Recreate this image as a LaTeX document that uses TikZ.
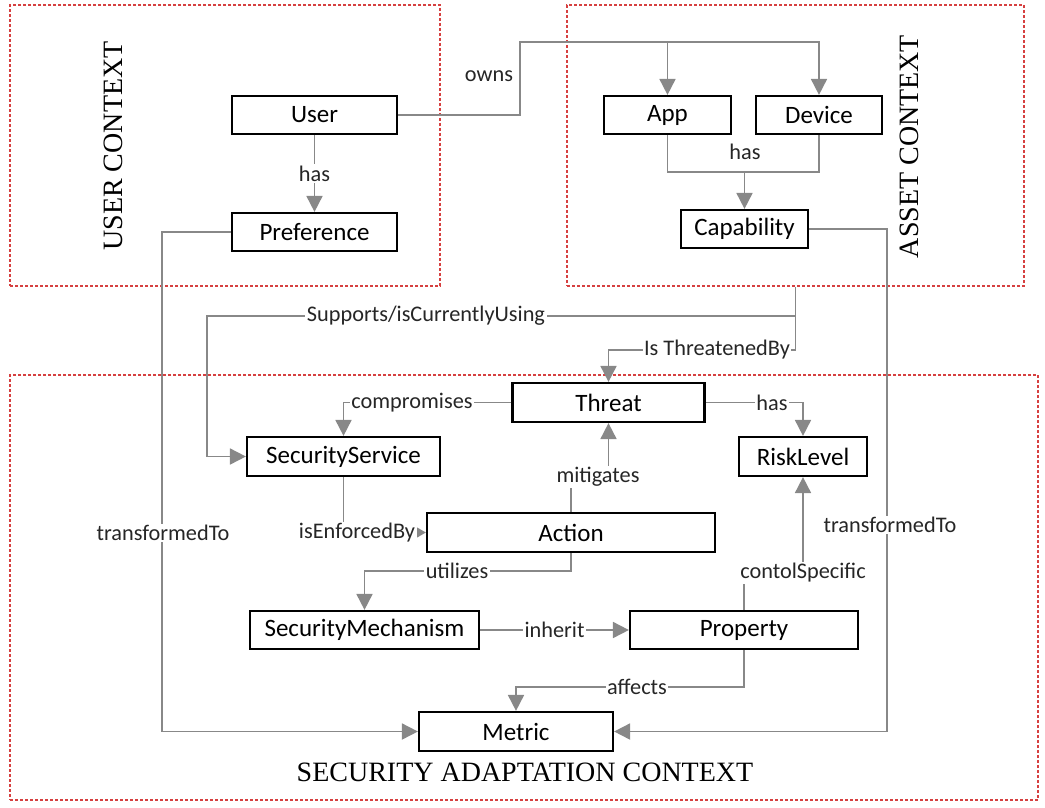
\documentclass[tikz,border=0pt]{standalone}
\usepackage{fontspec}
\setmainfont{Carlito}
\newfontfamily\titlefont{Liberation Serif}
\usetikzlibrary{arrows.meta}
\definecolor{conngray}{RGB}{136,136,136}
\definecolor{ctxred}{RGB}{214,64,64}
\begin{document}
\begin{tikzpicture}[x=1pt,y=-1pt,
  box/.style={draw=black, line width=2.2pt, minimum height=38pt, inner sep=0pt, font=\fontsize{25}{30}\selectfont},
  lbl/.style={fill=white, inner sep=1.5pt, font=\fontsize{22.3}{26}\selectfont, text=black!85},
  conn/.style={draw=conngray, line width=1.8pt},
  arr/.style={conn, -{Triangle[length=16pt,width=16pt]}},
  ctx/.style={draw=ctxred, line width=1.6pt, dash pattern=on 3pt off 2pt, inner sep=0pt},
  ttl/.style={font=\titlefont\fontsize{28}{32}\selectfont}]
\useasboundingbox (0,0) rectangle (1045,807);
\fill[white] (0,0) rectangle (1045,807);

% context frames
\node[ctx, minimum width=430pt, minimum height=281pt] (userctx) at (225,145.5) {};
\node[ctx, minimum width=457pt, minimum height=281pt] (assetctx) at (795.5,145.5) {};
\node[ctx, minimum width=1028pt, minimum height=425pt] (secctx) at (524,587.5) {};

% titles
\node[ttl, rotate=90] (userttl) at (113,146) {USER CONTEXT};
\node[ttl, rotate=90] (assetttl) at (909,146.5) {ASSET CONTEXT};
\node[ttl] (secttl) at (525,772) {SECURITY ADAPTATION CONTEXT};

% nodes
\node[box, minimum width=165pt] (user) at (314.5,115) {User};
\node[box, minimum width=165pt] (pref) at (314.5,232) {Preference};
\node[box, minimum width=127pt] (app) at (667.5,115) {App};
\node[box, minimum width=126pt] (device) at (819,115) {Device};
\node[box, minimum width=127pt] (cap) at (744.5,229) {Capability};
\node[box, minimum width=192pt, minimum height=39pt] (threat) at (608.5,402.5) {Threat};
\node[box, minimum width=193pt, minimum height=39pt] (secserv) at (343.5,456.5) {SecurityService};
\node[box, minimum width=128pt, minimum height=39pt] (risk) at (803,456.5) {RiskLevel};
\node[box, minimum width=288pt, minimum height=39pt] (action) at (571,532.5) {Action};
\node[box, minimum width=229pt] (secmech) at (364.5,630) {SecurityMechanism};
\node[box, minimum width=228pt] (prop) at (744,630) {Property};
\node[box, minimum width=194pt, minimum height=39pt] (metric) at (516,731.5) {Metric};

% helper coordinates
\coordinate (ownsj) at (520,42);
\coordinate (hasj) at (0,172);
\coordinate (tl) at (162,0);
\coordinate (tr) at (887,0);
\coordinate (sl) at (207,316);
\coordinate (tj) at (0,350);
\coordinate (mj) at (0,477);
\coordinate (uj) at (0,571);
\coordinate (cj) at (0,573);
\coordinate (aj) at (0,687);

% connectors
\draw[arr] (user.east) -| (ownsj) -| (device.north);
\draw[arr] (app.north |- ownsj) -- (app.north);
\node[lbl, fill=none] (ownsl) at (489,76) {owns};

\draw[arr] (user.south) -- (pref.north) node[lbl, midway] (hasl1) {has};

\draw[conn] (app.south) -- (app.south |- hasj) -- (device.south |- hasj) -- (device.south);
\draw[arr] (cap.north |- hasj) -- (cap.north);
\node[lbl, fill=none] (hasl2) at (745,152) {has};

\draw[arr] (pref.west) -| (tl |- metric.west) -- (metric.west);
\node[lbl] (tfl) at (163,533) {transformedTo};

\draw[arr] (cap.east) -| (tr |- metric.east) -- (metric.east);
\node[lbl] (tfr) at (890,525) {transformedTo};

\draw[arr] (assetctx.south) |- (sl) |- (secserv.west);
\node[lbl] (supl) at (426,316) {Supports/isCurrentlyUsing};

\draw[arr] (assetctx.south) |- (threat.north |- tj) -- (threat.north);
\node[lbl] (thrl) at (717,350) {Is ThreatenedBy};

\draw[arr] (threat.west) -| (secserv.north);
\node[lbl] (compl) at (412,403) {compromises};

\draw[arr] (threat.east) -| (risk.north);
\node[lbl] (hasl3) at (772,403) {has};

\draw[arr] (action.north) -- (action.north |- mj) -- (threat.south |- mj) -- (threat.south);
\node[lbl] (mitl) at (598,477) {mitigates};

\draw[conn, -{Triangle[length=10pt,width=11pt]}] (secserv.south) |- (action.west);
\node[lbl] (enfl) at (357,533) {isEnforcedBy};

\draw[arr] (action.south) |- (secmech.north |- uj) -- (secmech.north);
\node[lbl] (utill) at (457,571) {utilizes};

\draw[arr] (secmech.east) -- (prop.west) node[lbl, midway] (inhl) {inherit};

\draw[arr] (prop.north) -- (prop.north |- cj) -- (risk.south |- cj) -- (risk.south);
\node[lbl] (ctll) at (803,573) {contolSpecific};

\draw[arr] (prop.south) -- (prop.south |- aj) -- (metric.north |- aj) -- (metric.north);
\node[lbl] (affl) at (637,687) {affects};
\end{tikzpicture}
\end{document}
